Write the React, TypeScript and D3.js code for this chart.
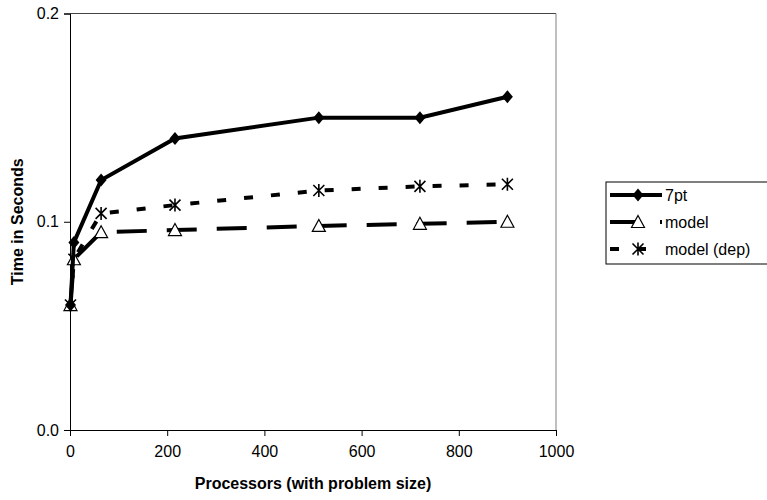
import React, { useRef, useEffect } from 'react';
import * as d3 from 'd3';

// processors (with problem size)
const processors = [1, 8, 64, 216, 512, 720, 900];
const sevenPt = [0.06, 0.09, 0.12, 0.14, 0.15, 0.15, 0.16];
const model = [0.06, 0.082, 0.095, 0.096, 0.098, 0.099, 0.1];
const modelDep = [0.06, 0.082, 0.104, 0.108, 0.115, 0.117, 0.118];
const seriesNames = ['7pt', 'model', 'model (dep)'];
const xTicks = [0, 200, 400, 600, 800, 1000];
const yTicks = [0, 0.1, 0.2];

const App = () => {
  const svgRef = useRef<SVGSVGElement>(null);

  useEffect(() => {
    if (!svgRef.current) return;
    const svg = d3.select(svgRef.current);
    svg.selectAll('*').remove();

    const width = 767;
    const height = 500;
    const font = 'Liberation Sans, Arial, sans-serif';
    const left = 70, right = 556, top = 13.5, bottom = 430;

    svg.attr('width', width).attr('height', height).style('background', '#fff');

    const x = d3.scaleLinear().domain([0, 1000]).range([left, right]);
    const y = d3.scaleLinear().domain([0, 0.2]).range([bottom, top]);

    // plot area frame
    svg.append('line').attr('x1', left).attr('x2', right).attr('y1', top).attr('y2', top)
      .attr('stroke', '#444').attr('stroke-width', 1);
    svg.append('line').attr('x1', right).attr('x2', right).attr('y1', top).attr('y2', bottom)
      .attr('stroke', '#808080').attr('stroke-width', 1);

    // axes
    const xAxis = svg.append('g')
      .attr('transform', `translate(0,${bottom})`)
      .call(d3.axisBottom(x).tickValues(xTicks).tickSize(6).tickPadding(10).tickFormat(d3.format('d')));
    const yAxis = svg.append('g')
      .attr('transform', `translate(${left},0)`)
      .call(d3.axisLeft(y).tickValues(yTicks).tickSize(6).tickPadding(5).tickFormat(d3.format('.1f')));
    [xAxis, yAxis].forEach(g => {
      g.select('.domain').attr('stroke', '#000').attr('stroke-width', 1);
      g.selectAll('.tick line').attr('stroke', '#000');
      g.selectAll('.tick text').attr('fill', '#000').attr('font-size', 16).attr('font-family', font);
    });

    // axis titles
    svg.append('text')
      .attr('x', (left + right) / 2).attr('y', 489)
      .attr('text-anchor', 'middle')
      .attr('font-family', font).attr('font-size', 16).attr('font-weight', 'bold')
      .text('Processors (with problem size)');
    svg.append('text')
      .attr('transform', `translate(23,${(top + bottom) / 2}) rotate(-90)`)
      .attr('text-anchor', 'middle')
      .attr('font-family', font).attr('font-size', 16).attr('font-weight', 'bold')
      .text('Time in Seconds');

    const seriesData = [sevenPt, model, modelDep];
    const dashes = ['none', '30,20', '9,18'];
    const markerSize = 11;

    const drawMarker = (g: d3.Selection<SVGGElement, unknown, null, undefined>, kind: number, cx: number, cy: number) => {
      const h = markerSize / 2;
      if (kind === 0) {
        g.append('path')
          .attr('d', `M${cx},${cy - h - 1}L${cx + h},${cy}L${cx},${cy + h + 1}L${cx - h},${cy}Z`)
          .attr('fill', '#000');
      } else if (kind === 1) {
        g.append('path')
          .attr('d', `M${cx},${cy - h - 1}L${cx + h + 1},${cy + h}L${cx - h - 1},${cy + h}Z`)
          .attr('fill', '#fff').attr('stroke', '#000').attr('stroke-width', 1.2);
      } else {
        g.append('path')
          .attr('d', `M${cx - h},${cy - h}L${cx + h},${cy + h}M${cx - h},${cy + h}L${cx + h},${cy - h}M${cx},${cy - h - 1}L${cx},${cy + h + 1}`)
          .attr('stroke', '#000').attr('stroke-width', 1.6).attr('fill', 'none');
      }
    };

    const line = d3.line<number>()
      .x((d, i) => x(processors[i]))
      .y(d => y(d));

    // draw in reverse so 7pt sits on top
    [2, 1, 0].forEach(k => {
      const g = svg.append('g');
      g.append('path')
        .datum(seriesData[k])
        .attr('fill', 'none')
        .attr('stroke', '#000')
        .attr('stroke-width', 4)
        .attr('stroke-dasharray', dashes[k])
        .attr('d', line);
      seriesData[k].forEach((v, i) => drawMarker(g, k, x(processors[i]), y(v)));
    });

    // legend
    const lg = svg.append('g').attr('transform', 'translate(606,182)');
    lg.append('rect')
      .attr('x', 0).attr('y', 0).attr('width', 170).attr('height', 82)
      .attr('fill', '#fff').attr('stroke', '#000').attr('stroke-width', 1);
    seriesNames.forEach((name, k) => {
      const ly = 13 + k * 27;
      const row = lg.append('g');
      row.append('line')
        .attr('x1', 4).attr('x2', 56).attr('y1', ly).attr('y2', ly)
        .attr('stroke', '#000').attr('stroke-width', 4)
        .attr('stroke-dasharray', dashes[k]);
      drawMarker(row, k, 32, ly);
      row.append('text')
        .attr('x', 59).attr('y', ly + 6)
        .attr('font-family', font).attr('font-size', 16)
        .text(name);
    });
  }, []);

  return (
    <div style={{ position: 'absolute', left: 0, top: 0 }}>
      <svg ref={svgRef}></svg>
    </div>
  );
};

export default App;
